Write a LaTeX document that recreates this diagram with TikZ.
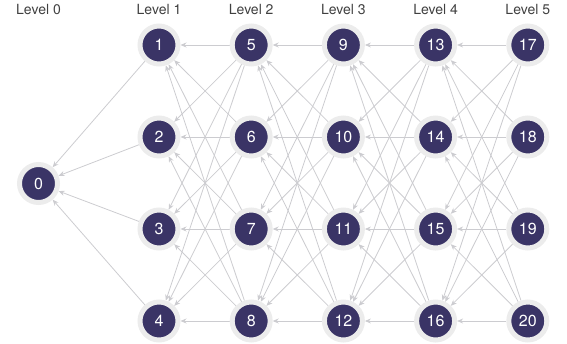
\documentclass[tikz,border=0pt]{standalone}
\usepackage{fontspec}
\setmainfont{TeX Gyre Heros}
\usetikzlibrary{arrows.meta,backgrounds}
\definecolor{vertexblue}{RGB}{58,52,102}
\definecolor{ringgray}{RGB}{236,236,236}
\definecolor{linkgray}{RGB}{204,204,208}
\tikzset{
 vertex/.style={circle,fill=vertexblue,draw=ringgray,line width=5pt,minimum size=38pt,inner sep=0,text=white,font=\fontsize{16}{16}\selectfont},
 link/.style={draw=linkgray,line width=.8pt,-{Stealth[length=6pt,width=5pt]}},
 levellabel/.style={font=\fontsize{14}{14}\selectfont,text=black!75}
}

\begin{document}
\begin{tikzpicture}[x=1pt,y=-1pt]
\path[use as bounding box] (0,0) rectangle (567,343);
% levels
\node[levellabel] (lab0) at (38.5,10) {Level 0};
\foreach \l in {1,...,5}
  \node[levellabel] (lab\l) at ({159+92.2*(\l-1)},10) {Level \l};
% nodes
\node[vertex] (n0) at (38.5,183.5) {0};
\foreach \l in {1,...,5}
  \foreach \r in {1,...,4}{
    \pgfmathtruncatemacro\k{4*(\l-1)+\r}
    \node[vertex] (n\k) at ({159+92.2*(\l-1)},{45+92*(\r-1)}) {\k};
  }
% links, every node points back to all nodes of the level before
\begin{scope}[on background layer]
\foreach \r in {1,...,4}
  \draw[link] (n\r) -- (n0);
\foreach \l in {1,...,4}
  \foreach \r in {1,...,4}
    \foreach \s in {1,...,4}{
      \pgfmathtruncatemacro\src{4*\l+\r}
      \pgfmathtruncatemacro\dst{4*(\l-1)+\s}
      \draw[link] (n\src) -- (n\dst);
    }
\end{scope}
\end{tikzpicture}
\end{document}
